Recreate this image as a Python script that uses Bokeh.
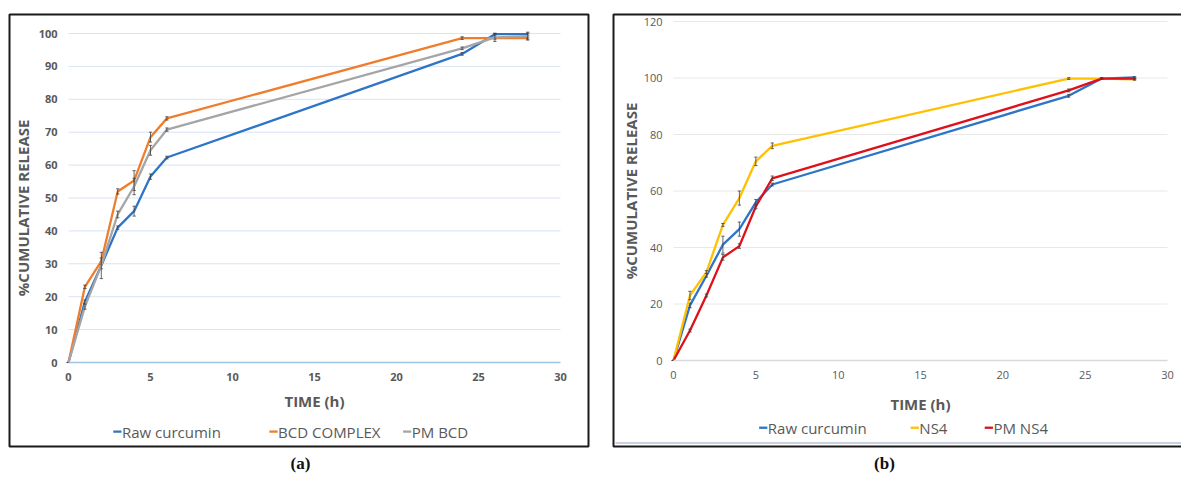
import math
from bokeh.plotting import figure
from bokeh.models import Range1d, LinearAxis, FixedTicker
from bokeh.core.properties import value
from bokeh.embed import file_html
from bokeh.resources import INLINE

# ---------------- data ----------------
time_h = [0, 1, 2, 3, 4, 5, 6, 24, 26, 28]

# panel (a)
a_raw = [0, 18.5, 29.5, 41.0, 46.0, 56.5, 62.3, 93.8, 99.8, 99.8]
a_bcd = [0, 23.0, 30.8, 52.0, 55.3, 68.5, 74.2, 98.6, 98.6, 98.6]
a_pm = [0, 17.0, 29.5, 45.0, 53.5, 64.5, 70.8, 95.5, 98.8, 99.2]
a_raw_err = [0, 0.5, 1.0, 0.5, 1.5, 0.8, 0.4, 0.4, 0.3, 0.3]
a_bcd_err = [0, 0.5, 1.0, 0.8, 3.0, 1.5, 0.5, 0.4, 0.3, 0.3]
a_pm_err = [0, 0.8, 4.0, 1.0, 2.5, 1.5, 0.5, 0.4, 1.2, 1.2]
a_labels = ["Raw curcumin", "BCD COMPLEX", "PM BCD"]

# panel (b)
b_raw = [0, 19.5, 30.0, 41.0, 46.5, 56.0, 62.3, 93.7, 99.8, 100.2]
b_ns4 = [0, 23.0, 31.3, 48.0, 57.5, 70.5, 76.0, 99.8, 99.8, 99.5]
b_pm = [0, 10.6, 23.0, 36.5, 40.5, 54.5, 64.5, 95.6, 99.8, 99.8]
b_raw_err = [0, 0.8, 0.5, 3.0, 2.5, 1.0, 0.5, 0.5, 0.3, 0.3]
b_ns4_err = [0, 1.5, 0.5, 0.5, 2.5, 1.5, 1.0, 0.3, 0.3, 0.3]
b_pm_err = [0, 0.5, 0.5, 1.0, 0.8, 0.8, 0.8, 0.5, 0.3, 0.3]
b_labels = ["Raw curcumin", "NS4", "PM NS4"]

x_ticks = [0, 5, 10, 15, 20, 25, 30]
a_y_ticks = [0, 10, 20, 30, 40, 50, 60, 70, 80, 90, 100]
b_y_ticks = [0, 20, 40, 60, 80, 100, 120]

# ---------------- styling / layout constants ----------------
BLUE = "#2E75C8"
ORANGE = "#F07D2C"
GRAY = "#A5A5A5"
YELLOW = "#FFC000"
RED = "#E0101A"
TXT = "#595959"
FONT = "Open Sans"

W, H = 1181, 477          # canvas size = page size (template has no body margin)
PX0, PY0 = 0, 0
PX1, PY1 = PX0 + W, PY0 + H


def axis_range(v0, v1, p0, p1, lo, hi):
    """Range whose value v0 sits at page pixel p0 and v1 at p1 (lo/hi = canvas ends)."""
    k = (v1 - v0) / (p1 - p0)
    return Range1d(v0 + (lo - p0) * k, v0 + (hi - p0) * k)


p = figure(width=W, height=H, x_range=Range1d(PX0, PX1), y_range=Range1d(PY1, PY0),
           x_axis_type=None, y_axis_type=None, output_backend="svg",
           toolbar_location=None, min_border=0)
p.min_border_left = 0
p.min_border_right = 0
p.min_border_top = 0
p.min_border_bottom = 0
p.outline_line_color = None
p.background_fill_color = "white"
p.border_fill_color = "white"

# panel data ranges placed on the page (pixel anchors of axis ends)
p.extra_x_ranges = {
    "xa": axis_range(0, 30, 68, 560, PX0, PX1),
    "xb": axis_range(0, 30, 673, 1167, PX0, PX1),
}
p.extra_y_ranges = {
    "ya": axis_range(0, 100, 362, 33, PY1, PY0),
    "yb": axis_range(0, 120, 360, 21, PY1, PY0),
}


def panel(xr, yr, ymax, yticks, series, labels, colors, bold_ticks,
          grid_color, axis_color, leg_x, leg_y, title_y, ytitle_x, ytitle_y):
    kw = dict(x_range_name=xr, y_range_name=yr)
    # horizontal gridlines
    gv = [t for t in yticks if t > 0]
    p.segment(x0=[0] * len(gv), x1=[30] * len(gv), y0=gv, y1=gv,
              line_color=grid_color, line_width=1, **kw)

    # axes through the library's scales
    xa = LinearAxis(x_range_name=xr, y_range_name=yr, fixed_location=0,
                    bounds=(0, 30), ticker=FixedTicker(ticks=x_ticks))
    ya = LinearAxis(x_range_name=xr, y_range_name=yr, fixed_location=0,
                    bounds=(0, ymax), ticker=FixedTicker(ticks=yticks))
    for ax in (xa, ya):
        ax.major_tick_line_color = None
        ax.minor_tick_line_color = None
        ax.major_tick_out = 0
        ax.major_tick_in = 0
        ax.major_label_text_font = FONT
        ax.major_label_text_font_size = "11px"
        ax.major_label_text_font_style = "bold" if bold_ticks else "normal"
        ax.major_label_text_color = TXT
    xa.axis_line_color = axis_color
    xa.axis_line_width = 1.3
    ya.axis_line_color = None
    xa.major_label_standoff = 10
    ya.major_label_standoff = 11
    p.add_layout(xa, "below")
    p.add_layout(ya, "left")

    # series lines + error bars
    for (ys, errs), col in zip(series, colors):
        lo = [y - e for y, e in zip(ys, errs)]
        hi = [y + e for y, e in zip(ys, errs)]
        p.line(time_h, ys, line_color=col, line_width=2.3, **kw)
        p.segment(x0=time_h, x1=time_h, y0=lo, y1=hi,
                  line_color="#404040", line_width=0.8, **kw)
        p.segment(x0=[t - 0.1 for t in time_h], x1=[t + 0.1 for t in time_h],
                  y0=hi, y1=hi, line_color="#404040", line_width=0.8, **kw)
        p.segment(x0=[t - 0.1 for t in time_h], x1=[t + 0.1 for t in time_h],
                  y0=lo, y1=lo, line_color="#404040", line_width=0.8, **kw)

    # axis titles
    p.text(x=[15], y=[title_y], text=["TIME (h)"], text_align="center",
           text_baseline="middle", text_font=value(FONT),
           text_font_size=value("15px"), text_font_style="bold",
           text_color=TXT, **kw)
    p.text(x=[ytitle_x], y=[ytitle_y], text=["%CUMULATIVE RELEASE"],
           angle=math.pi / 2, text_align="center", text_baseline="middle",
           text_font=value(FONT), text_font_size=value("15px"),
           text_font_style="bold", text_color=TXT, **kw)

    # legend (short line key + label)
    dash = 0.5
    p.segment(x0=leg_x, x1=[x + dash for x in leg_x], y0=[leg_y] * 3,
              y1=[leg_y] * 3, line_color=colors, line_width=2.3, **kw)
    p.text(x=[x + dash + 0.03 for x in leg_x], y=[leg_y] * 3, text=labels,
           text_align="left", text_baseline="middle", text_font=value(FONT),
           text_font_size=value("15px"), text_color=TXT, **kw)


panel("xa", "ya", 100, a_y_ticks,
      [(a_raw, a_raw_err), (a_bcd, a_bcd_err), (a_pm, a_pm_err)],
      a_labels, [BLUE, ORANGE, GRAY], True, "#D9E3F2", "#9DC3E6",
      [2.73, 12.25, 20.4], -21.0, -11.7, -2.8, 47)
panel("xb", "yb", 120, b_y_ticks,
      [(b_raw, b_raw_err), (b_ns4, b_ns4_err), (b_pm, b_pm_err)],
      b_labels, [BLUE, YELLOW, RED], False, "#E8E8E8", "#D9D9D9",
      [5.2, 14.4, 18.9], -23.8, -15.3, -2.6, 60)

# panel frames (page pixel coordinates)
p.quad(left=[9], right=[588], top=[14], bottom=[446], fill_color=None,
       line_color="#1a1a1a", line_width=2)
p.line(x=[1190, 613, 613, 1190], y=[14, 14, 446, 446],
       line_color="#1a1a1a", line_width=2)
p.segment(x0=[615], x1=[1190], y0=[442.5], y1=[442.5],
          line_color="#C9D1E0", line_width=2)

# captions
p.text(x=[300, 884], y=[463, 463], text=["(a)", "(b)"], text_align="center",
       text_baseline="middle", text_font=value("Liberation Serif"),
       text_font_size=value("17px"), text_font_style="bold", text_color="#111111")

open("out.html", "w").write(file_html(p, INLINE))
